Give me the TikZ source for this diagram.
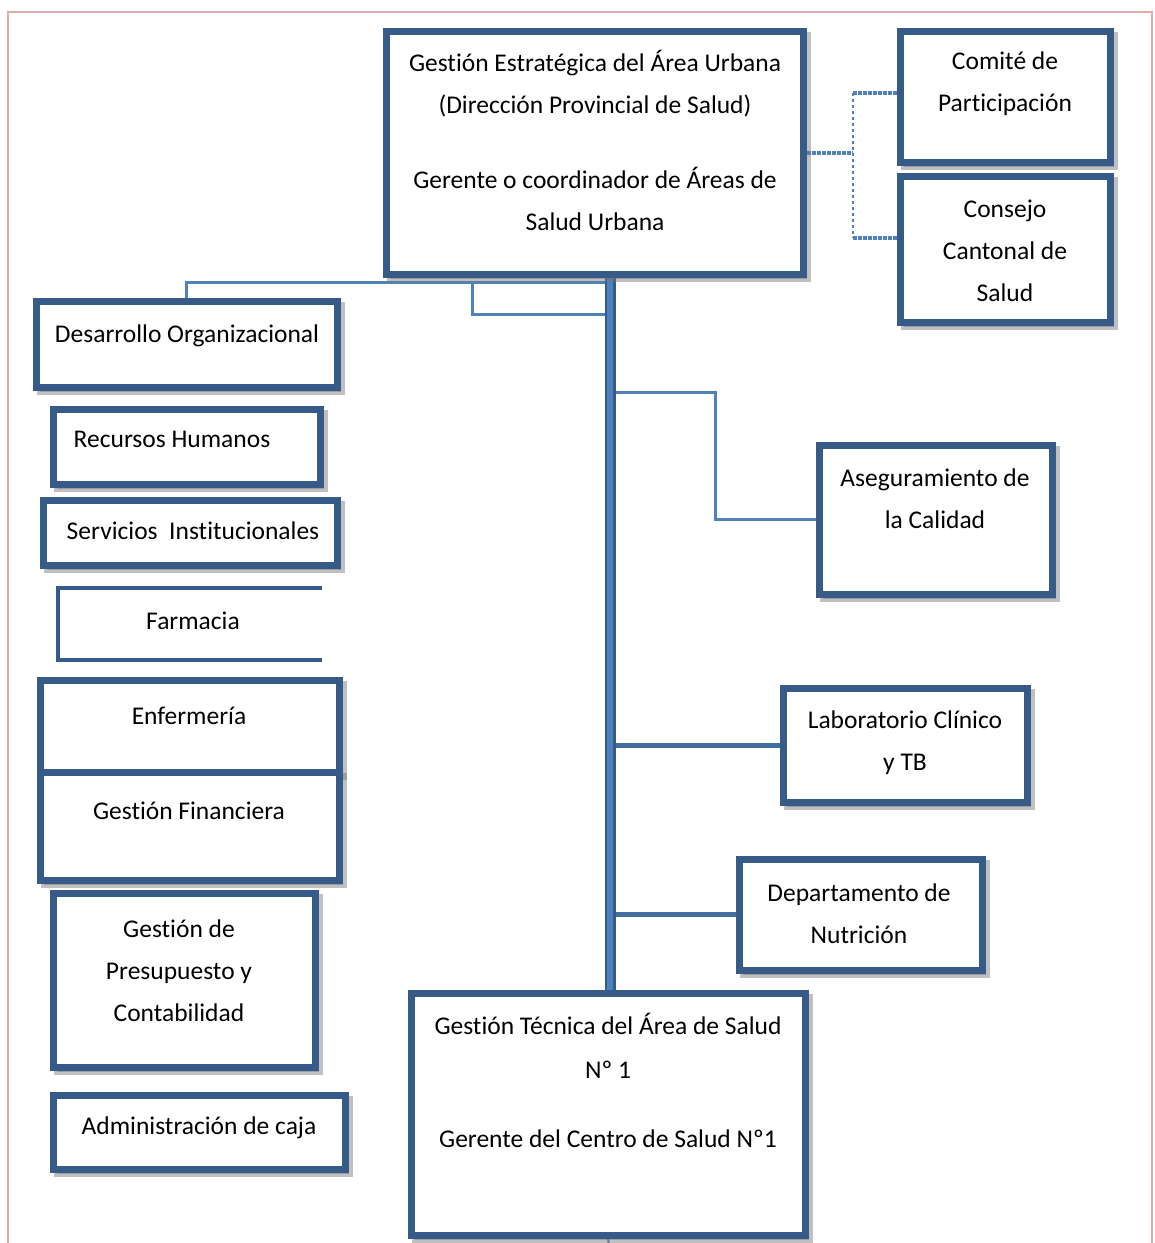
\documentclass[tikz,border=0pt]{standalone}
\usepackage{fontspec}
\setmainfont{Carlito}[Ligatures=NoCommon]
\usetikzlibrary{fit,shadows}
\definecolor{bxc}{HTML}{365B88}
\definecolor{lnc}{HTML}{4F81BD}
\definecolor{pinkc}{HTML}{E3A9A9}
\pgfdeclarelayer{bg}
\pgfsetlayers{bg,main}
\newcommand\bxn[5]{\node[box, fit={(#2,#3) (#4,#5)}] (#1) {};}
\begin{document}
\begin{tikzpicture}[x=1pt,y=-1pt,
  box/.style={draw=bxc, line width=7pt, fill=white, inner sep=0pt,
    drop shadow={shadow xshift=4pt, shadow yshift=-4.5pt, fill=black!55, draw=black!55, line width=7pt, opacity=0.45}},
  txt/.style={align=center, font=\fontsize{25.5}{42}\selectfont, inner sep=0pt},
  conn/.style={draw=lnc, line width=3pt},
  connb/.style={draw=lnc!85!black, line width=5pt},
  dsh/.style={draw=lnc, line width=2.5pt, dashed},
  dtt/.style={draw=lnc, line width=4pt, densely dotted}]
\useasboundingbox (0,0) rectangle (1155,1243);
\draw[pinkc, line width=2.5pt] (8,1243) -- (8,12) -- (1152,12) -- (1152,1243);
% boxes
\bxn{top}{386}{31}{803}{274}
\bxn{com}{900}{31}{1110}{162}
\bxn{con}{900}{176}{1110}{322}
\bxn{desa}{36}{301}{337}{387}
\bxn{rrhh}{53}{409}{320}{484}
\bxn{serv}{43}{500}{337}{565}
\bxn{enf}{40}{680}{339}{772}
\bxn{gfin}{40}{772}{339}{880}
\bxn{pres}{53}{893}{315}{1067}
\bxn{caja}{53}{1095}{345}{1169}
\bxn{aseg}{819}{445}{1052}{594}
\bxn{lab}{783}{688}{1027}{802}
\bxn{dept}{739}{859}{982}{970}
\bxn{gt}{411}{993}{805}{1235}
% farmacia open box
\draw[bxc, line width=4.5pt] (322,588) -- (58,588) -- (58,660) -- (322,660);
% texts
\node[txt] (top-a) at (595,84) {Gestión Estratégica del Área Urbana\\(Dirección Provincial de Salud)};
\node[txt] (top-b) at (595,199) {Gerente o coordinador de Áreas de\\Salud Urbana};
\node[txt] (com-t) at (1005,84) {Comité de\\Participación};
\node[txt] (con-t) at (1005,251) {Consejo\\Cantonal de\\Salud};
\node[txt] (desa-t) at (187,336) {Desarrollo Organizacional};
\node[txt] (rrhh-t) at (172,439) {Recursos Humanos};
\node[txt] (serv-t) at (193,531) {Servicios\ \ Institucionales};
\node[txt] (farm-t) at (193,621) {Farmacia};
\node[txt] (enf-t) at (189,716) {Enfermería};
\node[txt] (gfin-t) at (189,811) {Gestión Financiera};
\node[txt] (pres-t) at (179,971) {Gestión de\\Presupuesto y\\Contabilidad};
\node[txt] (caja-t) at (199,1128) {Administración de caja};
\node[txt] (aseg-t) at (935,499) {Aseguramiento de\\la Calidad};
\node[txt] (lab-t) at (905,743) {Laboratorio Clínico\\y TB};
\node[txt] (dept-t) at (859,914) {Departamento de\\Nutrición};
\node[txt, font=\fontsize{25.5}{44}\selectfont] (gt-a) at (608,1046) {Gestión Técnica del Área de Salud\\Nº 1};
\node[txt] (gt-b) at (608,1139) {Gerente del Centro de Salud Nº1};
% connectors
\coordinate (bx) at (610,0);
\coordinate (j0) at (610,282);
\coordinate (j1) at (472,282);
\coordinate (j2) at (610,314);
\coordinate (ja) at (610,392);
\coordinate (jb) at (715,392);
\coordinate (d1) at (853,93);
\coordinate (d2) at (853,238);
\begin{pgfonlayer}{bg}
\draw[conn] (desa.north) |- (j0);
\draw[conn] (j1) |- (j2);
\draw[conn] (ja) -- (jb) |- (aseg.west);
\draw[connb] (lab.west) -- (lab.west -| bx);
\draw[connb] (dept.west) -- (dept.west -| bx);
\draw[bxc, line width=11pt] (top.south -| bx) -- (gt.north -| bx);
\draw[lnc, line width=6pt] (top.south -| bx) -- (gt.north -| bx);
\draw[conn, line width=2pt] (gt.south) -- ++(2,12);
\draw[dtt] (top.east) -- (top.east -| d1);
\draw[dsh] (d1) -- (d2);
\draw[dtt] (d1) -- (d1 -| com.west);
\draw[dtt] (d2) -- (d2 -| con.west);
\end{pgfonlayer}
\end{tikzpicture}
\end{document}
